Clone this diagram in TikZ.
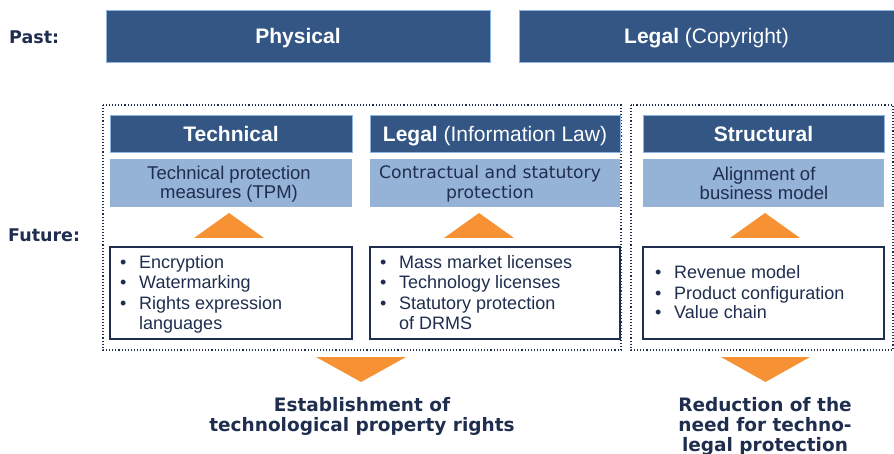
\documentclass[tikz,border=0pt]{standalone}
\usepackage{fontspec}
\setmainfont{Liberation Sans}
\newfontfamily\verd{DejaVu Sans}
\newfontfamily\verdb{DejaVu Sans Bold}
\definecolor{dblue}{HTML}{335685}
\definecolor{lblue}{HTML}{95B3D7}
\definecolor{hborder}{HTML}{8EB4E3}
\definecolor{navy}{HTML}{1F2E4E}
\definecolor{orng}{HTML}{F79234}
\tikzset{
  hdr/.style={fill=dblue, draw=hborder, line width=0.8pt, text=white, inner sep=0pt,
    text height=16pt, text depth=1pt, font=\fontsize{21}{24}\selectfont},
  sub/.style={fill=lblue, inner sep=0pt, text=navy, align=center,
    font=\fontsize{18.5}{19}\selectfont},
  listbox/.style={draw=navy, line width=1.5pt, fill=white, inner sep=0pt},
  listtext/.style={anchor=base west, inner sep=0pt, text=navy, align=left,
    font=\fontsize{18}{20}\selectfont},
  grp/.style={draw=navy, dotted, line width=1.1pt},
  tri/.style={fill=orng},
  lab/.style={text=navy, inner sep=0pt, font=\verdb\fontsize{17.5}{20}\selectfont},
  res/.style={text=navy, inner sep=0pt, align=center, font=\verdb\fontsize{18.5}{20}\selectfont},
}
\newcommand{\bul}[1]{\makebox[19pt][l]{\textbullet}#1}
\begin{document}
\begin{tikzpicture}[x=1pt,y=-1pt]
\useasboundingbox (0,0) rectangle (894,454);
% past row
\node[lab, anchor=west] (past) at (9,37) {Past:};
\node[hdr, minimum width=384pt, minimum height=52pt] (phys) at (298,36) {\bfseries Physical};
\node[hdr, minimum width=375pt, minimum height=52pt] (lcopy) at (706.5,36) {\textbf{Legal} (Copyright)};
% future label
\node[lab, anchor=west] (fut) at (8,235) {Future:};
% groups
\draw[grp] (103,105) rectangle (621,350);
\draw[grp] (631,105) rectangle (893,350);
% headers
\node[hdr, minimum width=242pt, minimum height=37pt] (th) at (231,134) {\bfseries Technical};
\node[hdr, minimum width=250pt, minimum height=37pt] (lh) at (495,134) {\textbf{Legal} (Information Law)};
\node[hdr, minimum width=241pt, minimum height=37pt] (sh) at (763.5,134) {\bfseries Structural};
% sub boxes
\node[sub, minimum width=242pt, minimum height=48pt] (ts) at (231,183) {};
\node[sub, minimum width=250pt, minimum height=48pt] (ls) at (495,183) {};
\node[sub, minimum width=241pt, minimum height=48pt] (ss) at (763.5,183) {};
\node[sub, fill=none] (tst) at (229,184.5) {Technical protection\\measures (TPM)};
\node[sub, fill=none, font=\verd\fontsize{17.2}{20}\selectfont] (lst) at (490,184) {Contractual and statutory\\protection};
\node[sub, fill=none] (sst) at (764,183) {Alignment of\\business model};
% list boxes
\node[listbox, minimum width=242pt, minimum height=92pt] (tb) at (231,293) {};
\node[listbox, minimum width=250pt, minimum height=92pt] (lb) at (495,293) {};
\node[listbox, minimum width=241pt, minimum height=92pt] (sb) at (763.5,293) {};
\node[listtext] (tt) at (120,329) {\bul{Encryption}\\\bul{Watermarking}\\\bul{Rights expression}\\\hspace*{19pt}languages};
\node[listtext] (lt) at (380,329) {\bul{Mass market licenses}\\\bul{Technology licenses}\\\bul{Statutory protection}\\\hspace*{19pt}of DRMS};
\node[listtext] (st) at (655,319) {\bul{Revenue model}\\\bul{Product configuration}\\\bul{Value chain}};
% up triangles
\fill[tri] (229,213) -- (264,238) -- (194,238) -- cycle;
\fill[tri] (479,213) -- (514,238) -- (444,238) -- cycle;
\fill[tri] (765,213) -- (800,238) -- (730,238) -- cycle;
% down triangles
\fill[tri] (316,357) -- (406,357) -- (361,382) -- cycle;
\fill[tri] (721,357) -- (810,357) -- (765.5,382) -- cycle;
% results
\node[res, anchor=base] (r1) at (362,411) {Establishment of};
\node[res, anchor=base] (r1b) at (362,431) {technological property rights};
\node[res, anchor=base] (r2) at (765,411) {Reduction of the};
\node[res, anchor=base] (r2b) at (765,431) {need for techno-};
\node[res, anchor=base] (r2c) at (765,451) {legal protection};
\end{tikzpicture}
\end{document}
